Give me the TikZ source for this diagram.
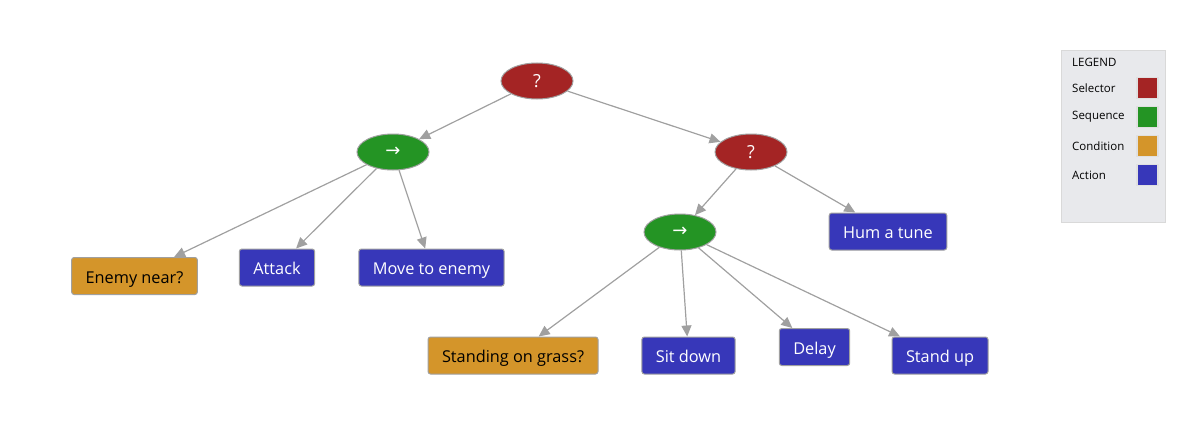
\documentclass[tikz,border=0pt]{standalone}
\usepackage{fontspec}
\setmainfont{Open Sans}
\newfontfamily\symfont{DejaVu Sans}
\usetikzlibrary{arrows.meta, shapes.geometric}

\definecolor{selectorred}{HTML}{A42424}
\definecolor{sequencegreen}{HTML}{249424}
\definecolor{conditionorange}{HTML}{D4952A}
\definecolor{actionblue}{HTML}{3737B9}
\definecolor{edgegray}{HTML}{A0A0A0}
\definecolor{legendgray}{HTML}{E8E9EC}

\begin{document}
\begin{tikzpicture}[
    x=1pt, y=-1pt,
    >={Triangle[length=11pt,width=10pt]},
    flow node/.style={ellipse,draw=edgegray,line width=1pt,minimum width=72pt,minimum height=36pt,inner sep=0pt,text=white,font=\fontsize{18}{20}\selectfont},
    selector node/.style={flow node,fill=selectorred},
    sequence node/.style={flow node,fill=sequencegreen},
    leaf node/.style={rectangle,rounded corners=2.5pt,draw=edgegray,line width=1pt,minimum height=37pt,inner xsep=14pt,text height=16pt,text depth=1.5pt,font=\fontsize{16.3}{19}\selectfont},
    condition node/.style={leaf node,fill=conditionorange,text=black},
    action node/.style={leaf node,fill=actionblue,text=white},
    tree link/.style={->,draw=edgegray,line width=1.2pt,edgegray},
    legend text/.style={anchor=west,inner sep=0pt,font=\fontsize{11.5}{13}\selectfont},
    swatch/.style={draw=black!12,line width=1.5pt,minimum size=21pt,inner sep=0pt}
    ]
    \useasboundingbox (0,0) rectangle (1185,436);
    % nodes
    % top level
    \node [selector node] (root) at (537,81) {?};
    \node [sequence node] (seq1) at (393,152) {\symfont →};
    \node [selector node] (sel2) at (751,152) {?};
    % attack branch
    \node [condition node] (enemy) at (134.5,276) {Enemy near?};
    \node [action node] (attack) at (277,267.5) {Attack};
    \node [action node] (move) at (431.5,267.5) {Move to enemy};
    % idle branch
    \node [sequence node] (seq2) at (680,232) {\symfont →};
    \node [action node] (hum) at (888,231.5) {Hum a tune};
    \node [condition node] (grass) at (513,355.5) {Standing on grass?};
    \node [action node] (sit) at (688.5,355.5) {Sit down};
    \node [action node] (delay) at (814.5,347) {Delay};
    \node [action node] (stand) at (940,355.5) {Stand up};
    % edges
    \draw [tree link] (root) -- (seq1);
    \draw [tree link] (root) -- (sel2);
    \foreach \t in {enemy,attack,move} {
        \draw [tree link] (seq1) -- (\t);
    }
    \draw [tree link] (sel2) -- (seq2);
    \draw [tree link] (sel2) -- (hum);
    \foreach \t in {grass,sit,delay,stand} {
        \draw [tree link] (seq2) -- (\t);
    }
    % legend
    \draw [draw=black!15,fill=legendgray] (1061,50) rectangle (1165,222);
    \node [legend text] (legend) at (1072,62) {LEGEND};
    \foreach \y/\name/\col in {88/Selector/selectorred,117/Sequence/sequencegreen,146/Condition/conditionorange,175/Action/actionblue} {
        \node [legend text] (L\name) at (1072,\y) {\name};
        \node [swatch,fill=\col] (S\name) at (1147.5,\y) {};
    }
\end{tikzpicture}
\end{document}
